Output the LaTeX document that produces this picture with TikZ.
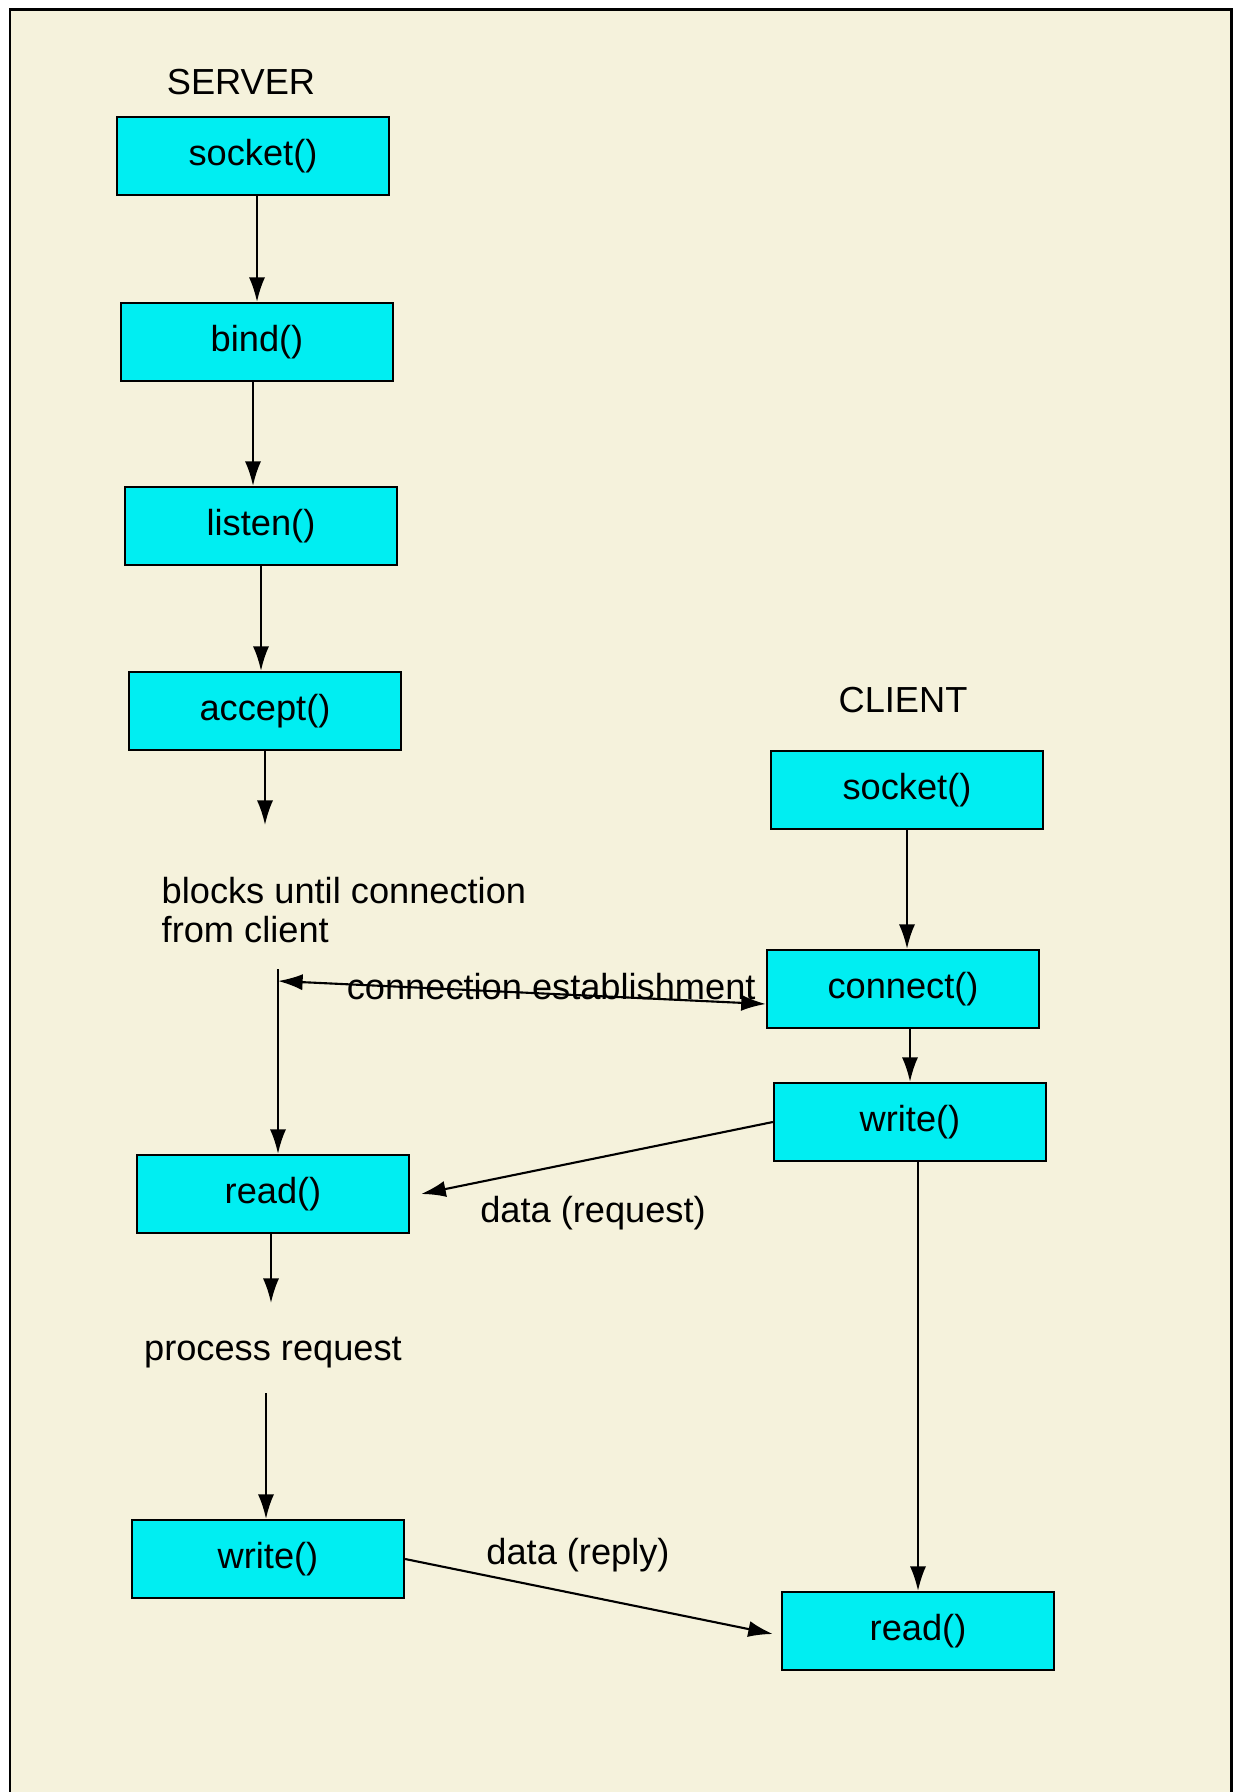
\documentclass[tikz,border=0pt]{standalone}
\usepackage{fontspec}
\setmainfont{Liberation Sans}
\usetikzlibrary{arrows.meta}

\definecolor{paper}{RGB}{245,242,220}
\definecolor{boxcyan}{RGB}{0,238,242}

\begin{document}
\begin{tikzpicture}[x=0.01cm, y=-0.01cm,
    call/.style={rectangle, draw=black, line width=0.6pt, fill=boxcyan,
      minimum width=2.72cm, minimum height=0.78cm, anchor=center},
    label/.style={inner sep=0pt, anchor=center},
    flow/.style={line width=0.6pt, -{Latex[length=7pt,width=4.6pt]}},
    font=\fontsize{10.3}{11.1}\selectfont]

      % page and frame
      \useasboundingbox (0,0) rectangle (1237,1792);
      \fill[white] (0,0) rectangle (1237,1792);
      \fill[paper] (10,10) rectangle (1231,1792);
      \draw[line width=0.85pt] (10,1792) -- (10,10) -- (1231,10) -- (1231,1792);

      % server side
      \node[label] (server) at (241,82) {SERVER};
      \node[call] (ssocket) at (253,156) {socket()};
      \node[call] (sbind) at (257,342) {bind()};
      \node[call] (slisten) at (261,526) {listen()};
      \node[call] (saccept) at (265,711) {accept()};
      \coordinate (sblock) at (265,825);
      \node[inner sep=0pt, anchor=west, align=left] (blocks) at (161,910)
        {blocks until connection\\from client};
      \coordinate (swait) at (278,969);
      \coordinate (sjoin) at (278,981);
      \node[call] (sread) at (273,1194) {read()};
      \coordinate (sproc) at (271,1303);
      \node[label] (process) at (273,1353) {process request};
      \coordinate (sresume) at (266,1393);
      \node[call] (swrite) at (268,1559) {write()};

      % client side
      \node[label] (client) at (903,700) {CLIENT};
      \node[call] (csocket) at (907,790) {socket()};
      \node[call] (cconnect) at (903,989) {connect()};
      \node[call] (cwrite) at (910,1122) {write()};
      \node[call] (cread) at (918,1631) {read()};

      % server flow
      \draw[flow] (ssocket.south -| sbind.north) -- (sbind.north);
      \draw[flow] ([xshift=-0.04cm]sbind.south) -- ([xshift=-0.04cm]sbind.south |- slisten.north);
      \draw[flow] (slisten.south) -- (slisten.south |- saccept.north);
      \draw[flow] (saccept.south) -- (sblock);
      \draw[flow] (swait) -- (swait |- sread.north);
      \draw[flow] (sproc |- sread.south) -- (sproc);
      \draw[flow] (sresume) -- (sresume |- swrite.north);

      % client flow
      \draw[flow] (csocket.south) -- (csocket.south |- cconnect.north);
      \draw[flow] (cwrite.north |- cconnect.south) -- (cwrite.north);
      \draw[flow] (cread.north |- cwrite.south) -- (cread.north);

      % messages between the two
      \draw[flow, {Latex[length=7pt,width=4.6pt]}-{Latex[length=7pt,width=4.6pt]}]
        (sjoin) -- ([yshift=-0.15cm]cconnect.west)
        node [pos=0.56, yshift=0.07cm] (estab) {connection establishment};
      \draw[flow] (cwrite.west) -- ([xshift=0.11cm]sread.east);
      \node[label] (request) at (593,1213) {data (request)};
      \draw[flow] (swrite.east) -- ([xshift=-0.08cm,yshift=-0.03cm]cread.west);
      \node[label] (reply) at (578,1555) {data (reply)};
    \end{tikzpicture}
\end{document}
